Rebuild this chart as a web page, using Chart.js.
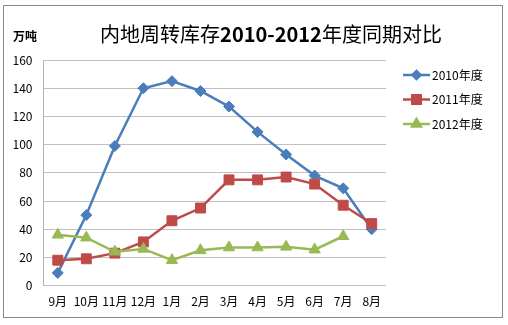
<!DOCTYPE html>
<html>
<head>
<meta charset="utf-8">
<script src="https://cdn.jsdelivr.net/npm/chart.js@4/dist/chart.umd.min.js"></script>
<style>
html,body{margin:0;padding:0;background:#fff;}
#wrap{width:508px;height:325px;position:relative;}
</style>
</head>
<body>
<div id="wrap"><canvas id="c" width="508" height="325"></canvas></div>
<script>
const categories = ["9月","10月","11月","12月","1月","2月","3月","4月","5月","6月","7月","8月"];
const series2010 = [9, 50, 99, 140, 145, 138, 127, 109, 93, 78, 69, 40];
const series2011 = [18, 19, 23, 31, 46, 55, 75, 75, 77, 72, 57, 44];
const series2012 = [36, 34, 24, 26, 18, 25, 27, 27, 27.5, 25.5, 35, null];
const seriesLabels = ["2010年度","2011年度","2012年度"];
const yTicks = [0, 20, 40, 60, 80, 100, 120, 140, 160];
const titleParts = ["内地周转库存", "2010-2012", "年度同期对比"];
const yUnit = "万吨";

const CJK = '"Noto Sans CJK SC", "Noto Sans", sans-serif';
const colors = ["#4A7EBB", "#BE4B48", "#98B954"];
const styles = ["rectRot", "rect", "triangle"];
const radii = [5.5, 7, 6.5];
const legendRadii = [4, 6, 5];

const decor = {
  id: 'decor',
  beforeDraw(chart) {
    const ctx = chart.ctx;
    ctx.save();
    ctx.fillStyle = '#fff';
    ctx.fillRect(0, 0, chart.width, chart.height);
    ctx.strokeStyle = '#8a8a8a';
    ctx.lineWidth = 1;
    ctx.strokeRect(3.5, 5.5, 499, 312);
    ctx.restore();
  },
  afterDraw(chart) {
    const ctx = chart.ctx;
    ctx.save();
    ctx.textBaseline = 'middle';
    ctx.fillStyle = '#000';
    const fonts = ['normal 20px ' + CJK, 'bold 20px ' + CJK, 'normal 20px ' + CJK];
    let widths = titleParts.map((t, i) => { ctx.font = fonts[i]; return ctx.measureText(t).width; });
    const total = widths.reduce((a, b) => a + b, 0);
    let x = 271 - total / 2;
    titleParts.forEach((t, i) => { ctx.font = fonts[i]; ctx.textAlign = 'left'; ctx.fillText(t, x, 34); x += widths[i]; });
    ctx.font = 'bold 12px ' + CJK;
    ctx.fillText(yUnit, 13, 36);
    chart.data.datasets.forEach((ds, i) => {
      const y = 75 + i * 24.5;
      ctx.strokeStyle = ds.borderColor;
      ctx.lineWidth = 2.5;
      ctx.beginPath();
      ctx.moveTo(403, y);
      ctx.lineTo(430, y);
      ctx.stroke();
      ctx.fillStyle = ds.borderColor;
      Chart.helpers.drawPoint(ctx, {pointStyle: ds.pointStyle, radius: legendRadii[i], rotation: 0, borderWidth: 1}, 416.5, y);
      ctx.fill();
      ctx.fillStyle = '#000';
      ctx.font = '12px ' + CJK;
      ctx.textAlign = 'left';
      ctx.fillText(ds.label, 432, y);
    });
    ctx.restore();
  }
};

const mk = (i, data) => ({
  label: seriesLabels[i],
  data: data,
  order: 3 - i,
  borderColor: colors[i],
  backgroundColor: colors[i],
  pointBackgroundColor: colors[i],
  pointBorderColor: colors[i],
  pointStyle: styles[i],
  pointRadius: radii[i],
  pointHoverRadius: radii[i],
  pointBorderWidth: 1,
  borderWidth: 2.5,
  tension: 0,
  spanGaps: false
});

new Chart(document.getElementById('c'), {
  type: 'line',
  data: {
    labels: categories,
    datasets: [mk(0, series2010), mk(1, series2011), mk(2, series2012)]
  },
  options: {
    responsive: false,
    animation: false,
    devicePixelRatio: 1,
    layout: { padding: { left: 13.5, right: 122, top: 60, bottom: 7 } },
    plugins: { legend: { display: false }, title: { display: false }, tooltip: { enabled: false } },
    scales: {
      x: {
        offset: true,
        grid: { display: false, drawTicks: false },
        border: { display: false },
        ticks: { color: '#000', font: { size: 12, family: CJK }, padding: 9, maxRotation: 0, autoSkip: false }
      },
      y: {
        min: 0, max: 160,
        afterBuildTicks: s => { s.ticks = yTicks.map(v => ({ value: v })); },
        afterFit: s => { s.width = 30; },
        grid: { color: '#c0c0c0', lineWidth: 1, drawTicks: false },
        border: { display: true, color: '#b4b4b4' },
        ticks: { color: '#000', font: { size: 12, family: CJK }, padding: 11 }
      }
    }
  },
  plugins: [decor]
});
</script>
</body>
</html>
